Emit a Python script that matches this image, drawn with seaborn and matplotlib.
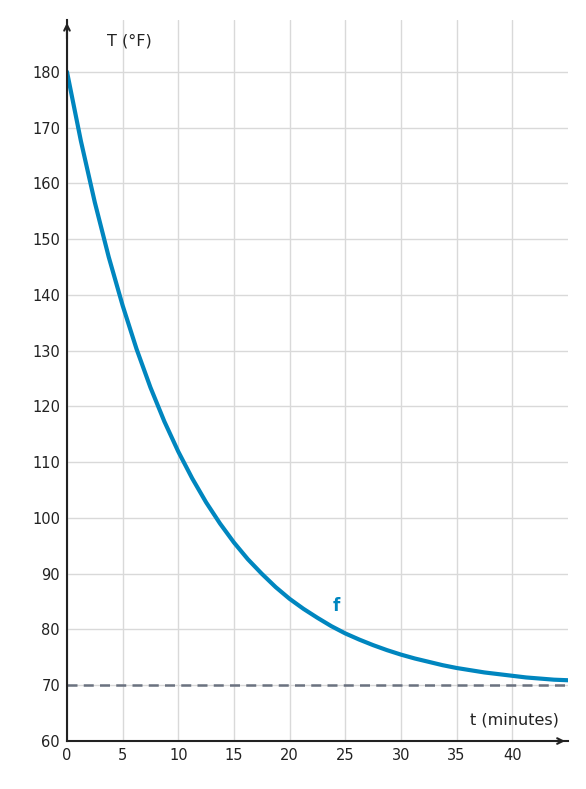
import matplotlib
matplotlib.use("Agg")
import matplotlib.pyplot as plt
import seaborn as sns
import pandas as pd

t_vals = [0, 1.25, 2.5, 3.75, 5, 6.25, 7.5, 8.75, 10, 11.25, 12.5, 13.75, 15, 16.25, 17.5, 18.75, 20,
          21.25, 22.5, 23.75, 25, 26.25, 27.5, 28.75, 30, 31.25, 32.5, 33.75, 35, 36.25, 37.5, 38.75,
          40, 41.25, 42.5, 43.75, 45]
T_vals = [180, 167.5, 156.3, 146.2, 137.2, 129.1, 121.9, 115.5, 109.7, 104.6, 100.0, 95.9, 92.2, 89.0,
          86.1, 83.5, 81.2, 79.1, 77.3, 75.6, 74.1, 72.8, 71.6, 70.6, 69.6, 68.8, 68.0, 67.3, 66.7,
          66.2, 65.7, 65.2, 64.8, 64.5, 64.2, 63.9, 63.6]
T_vals = [v + (180 - v) * 0.0 for v in T_vals]
# readings of the curve above the 70 °F line (offset from ambient)
T_vals = [180, 167.6, 156.5, 146.5, 137.6, 129.6, 122.4, 116.0, 110.2, 105.0, 100.4, 96.2, 92.5, 89.1,
          86.1, 83.4, 81.0, 78.8, 76.9, 75.2, 73.6, 72.2, 71.0, 69.9, 68.9, 68.0, 67.2, 66.5, 65.9,
          65.3, 64.8, 64.4, 64.0, 63.6, 63.3, 63.0, 62.8]
T_vals = [180, 167.7, 156.7, 146.8, 138.0, 130.1, 123.0, 116.7, 111.0, 105.9, 101.4, 97.3, 93.7,
          90.4, 87.5, 84.9, 82.6, 80.5, 78.6, 77.0, 75.5, 74.1, 72.9, 71.9, 70.9, 70.0, 69.3, 68.6,
          67.9, 67.4, 66.9, 66.4, 66.0, 65.7, 65.3, 65.0, 64.8]
T_vals = [180, 167.5, 156.3, 146.3, 137.3, 129.2, 122.0, 115.5, 109.7, 104.5, 99.8, 95.6, 91.9,
          88.5, 85.5, 82.8, 80.4, 78.2, 76.3, 74.5, 73.0, 71.6, 70.3, 69.2, 68.2, 67.3, 66.5, 65.7,
          65.1, 64.5, 64.0, 63.5, 63.1, 62.7, 62.4, 62.1, 61.8]
T_vals = [180, 167.2, 155.7, 145.4, 136.2, 127.9, 120.5, 113.8, 107.9, 102.5, 97.7, 93.4, 89.6,
          86.1, 83.0, 80.2, 77.8, 75.5, 73.5, 71.7, 70.1, 68.7, 67.4, 66.2, 65.2, 64.2, 63.4, 62.6,
          62.0, 61.4, 60.8, 60.3, 59.9, 59.5, 59.1, 58.8, 58.5]
T_vals = [v if v >= 0 else v for v in [180, 167.4, 156.1, 146.0, 136.9, 128.8, 121.5, 115.0, 109.1,
          103.9, 99.2, 95.0, 91.2, 87.8, 84.8, 82.1, 79.6, 77.4, 75.5, 73.7, 72.1, 70.7, 69.4, 68.3,
          67.2, 66.3, 65.5, 64.7, 64.0, 63.4, 62.9, 62.4, 62.0, 61.6, 61.2, 60.9, 60.6]]
# final read values (°F)
T_vals = [180, 167.4, 156.1, 146.0, 137.0, 128.9, 121.8, 115.4, 109.8, 104.7, 100.2, 96.2, 92.7,
          89.5, 86.7, 84.2, 82.0, 80.0, 78.3, 76.7, 75.4, 74.1, 73.0, 72.1, 71.2, 70.5, 69.8, 69.2,
          68.7, 68.2, 67.8, 67.4, 67.1, 66.8, 66.5, 66.3, 66.1]
T_vals = [180, 167.4, 156.1, 146.0, 137.0, 129.0, 121.9, 115.6, 110.0, 105.0, 100.6, 96.7, 93.2,
          90.1, 87.4, 85.0, 82.9, 81.0, 79.3, 77.8, 76.5, 75.4, 74.4, 73.5, 72.7, 72.0, 71.4, 70.9,
          70.4, 70.0, 69.7, 69.4, 69.1, 68.9, 68.7, 68.5, 68.3]
T_vals = [180, 167.4, 156.1, 146.1, 137.2, 129.3, 122.3, 116.0, 110.5, 105.6, 101.2, 97.3, 93.9,
          90.9, 88.2, 85.8, 83.7, 81.8, 80.1, 78.6, 77.3, 76.2, 75.2, 74.3, 73.5, 72.8, 72.2, 71.6,
          71.1, 70.7, 70.3, 69.9, 69.6, 69.4, 69.1, 68.9, 68.7]
T_vals = [180, 167.4, 156.2, 146.2, 137.4, 129.5, 122.5, 116.3, 110.8, 105.9, 101.6, 97.8, 94.4,
          91.4, 88.7, 86.4, 84.3, 82.4, 80.8, 79.3, 78.0, 76.9, 75.9, 75.0, 74.2, 73.5, 72.9, 72.3,
          71.9, 71.4, 71.1, 70.7, 70.4, 70.2, 70.0, 69.8, 69.6]
T_vals = [180, 167.5, 156.4, 146.5, 137.7, 129.9, 122.9, 116.8, 111.3, 106.5, 102.2, 98.4, 95.0,
          92.0, 89.3, 87.0, 84.9, 83.0, 81.4, 80.0, 78.7, 77.5, 76.5, 75.6, 74.8, 74.1, 73.5, 72.9,
          72.4, 72.0, 71.6, 71.3, 71.0, 70.7, 70.5, 70.3, 70.1]
T_vals = [180, 167.6, 156.6, 146.8, 138.1, 130.3, 123.4, 117.3, 111.9, 107.1, 102.8, 99.0, 95.6,
          92.6, 90.0, 87.6, 85.5, 83.7, 82.1, 80.6, 79.3, 78.2, 77.2, 76.3, 75.5, 74.8, 74.2, 73.6,
          73.1, 72.7, 72.3, 72.0, 71.7, 71.4, 71.2, 71.0, 70.9]
x_ticks = [0, 5, 10, 15, 20, 25, 30, 35, 40]
y_ticks = [60, 70, 80, 90, 100, 110, 120, 130, 140, 150, 160, 170, 180]
ambient = 70

sns.set_style("white")
plt.rcParams['font.family'] = ['DejaVu Sans']
plt.rcParams['font.sans-serif'] = ['DejaVu Sans']
fig = plt.figure(figsize=(5.86, 7.89), dpi=100)
ax = fig.add_axes([0.1143, 0.0608, 0.969 - 0.1143, 0.9747 - 0.0608])
df = pd.DataFrame({"t": t_vals, "T": T_vals})
ax.set_xlim(0, 45)
ax.set_ylim(60, 189.3)
ax.set_xticks(x_ticks)
ax.set_yticks(y_ticks)
ax.grid(True, color="#d9d9d9", lw=1.0)
ax.set_axisbelow(True)
ax.axhline(ambient, color="#6b7280", ls="--", lw=1.8, dashes=(4, 2.5))
sns.lineplot(data=df, x="t", y="T", ax=ax, color="#0086bf", lw=3)
ax.set_xlabel(""); ax.set_ylabel("")
for s in ["top", "right"]:
    ax.spines[s].set_visible(False)
for s in ["left", "bottom"]:
    ax.spines[s].set_color("#222222"); ax.spines[s].set_linewidth(1.5)
ax.tick_params(axis="both", direction="out", length=3, width=1, color="#222222",
               labelsize=10.5, labelcolor="#222222", pad=2)
ax.annotate("", xy=(1.0, 0), xycoords="axes fraction", xytext=(0.97, 0),
            arrowprops=dict(arrowstyle="->", color="#222222", lw=1.5))
ax.annotate("", xy=(0, 1.0), xycoords="axes fraction", xytext=(0, 0.97),
            arrowprops=dict(arrowstyle="->", color="#222222", lw=1.5))
ax.text(3.6, 185.5, "T (°F)", fontsize=11.5, color="#222222", va="center", family="DejaVu Sans")
ax.text(44.2, 63.7, "t (minutes)", fontsize=11.5, color="#222222", va="center", ha="right",
        family="DejaVu Sans")
ax.text(24.2, 84.2, "f", fontsize=12, color="#0086bf", fontweight="bold", ha="center",
        va="center", family="DejaVu Sans")
fig.savefig("out.png", dpi=100)
